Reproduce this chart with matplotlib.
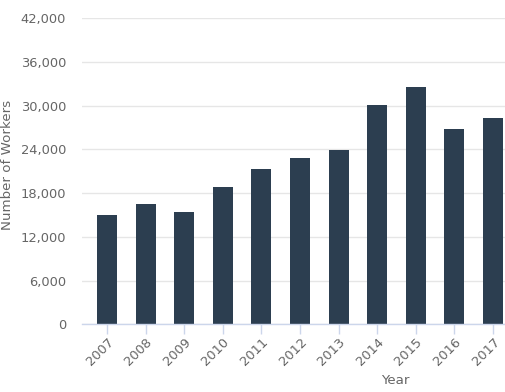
import matplotlib
matplotlib.use("Agg")
import matplotlib.pyplot as plt
from matplotlib.ticker import FuncFormatter

years = ["2007", "2008", "2009", "2010", "2011", "2012", "2013", "2014", "2015", "2016", "2017"]
workers = [15000, 16500, 15400, 18900, 21300, 22800, 23900, 30100, 32600, 26800, 28300]
yticks = [0, 6000, 12000, 18000, 24000, 30000, 36000, 42000]

W, H = 506, 392
fig = plt.figure(figsize=(W / 100, H / 100), dpi=100)
left, right, top, bottom = 82, 506, 18.3, 324.3
ax = fig.add_axes([left / W, 1 - bottom / H, (right - left) / W, (bottom - top) / H])

x = list(range(len(years)))
ax.bar(x, workers, width=20 / 38.6, color="#2c3e50", zorder=3)

# x scale: 38.6 px per category, first center at 107 px
ax.set_xlim((left - 107) / 38.6, (right - 107) / 38.6)
ax.set_ylim(0, 42000)
ax.set_yticks(yticks)
ax.yaxis.set_major_formatter(FuncFormatter(lambda v, p: f"{int(v):,}"))
ax.grid(axis="y", color="#e6e6e6", linewidth=1, zorder=0)
ax.tick_params(axis="y", length=0, pad=11.5, labelsize=9.4, labelcolor="#666666")

ax.set_xticks(x)
ax.set_xticklabels(years, rotation=45, ha="right", rotation_mode="anchor")
ax.tick_params(axis="x", length=7, width=1, color="#ccd6eb", labelsize=9.4,
               labelcolor="#666666", pad=1)

for s in ["top", "right", "left"]:
    ax.spines[s].set_visible(False)
ax.spines["bottom"].set_color("#ccd6eb")
ax.spines["bottom"].set_linewidth(1)
ax.spines["bottom"].set_zorder(4)

fig.text(8 / W, 1 - 165 / H, "Number of Workers", rotation=90, ha="center", va="center",
         fontsize=9.6, color="#666666")
fig.text(395 / W, 1 - 381 / H, "Year", ha="center", va="center",
         fontsize=9.6, color="#666666")

fig.savefig("out.png", dpi=100)
